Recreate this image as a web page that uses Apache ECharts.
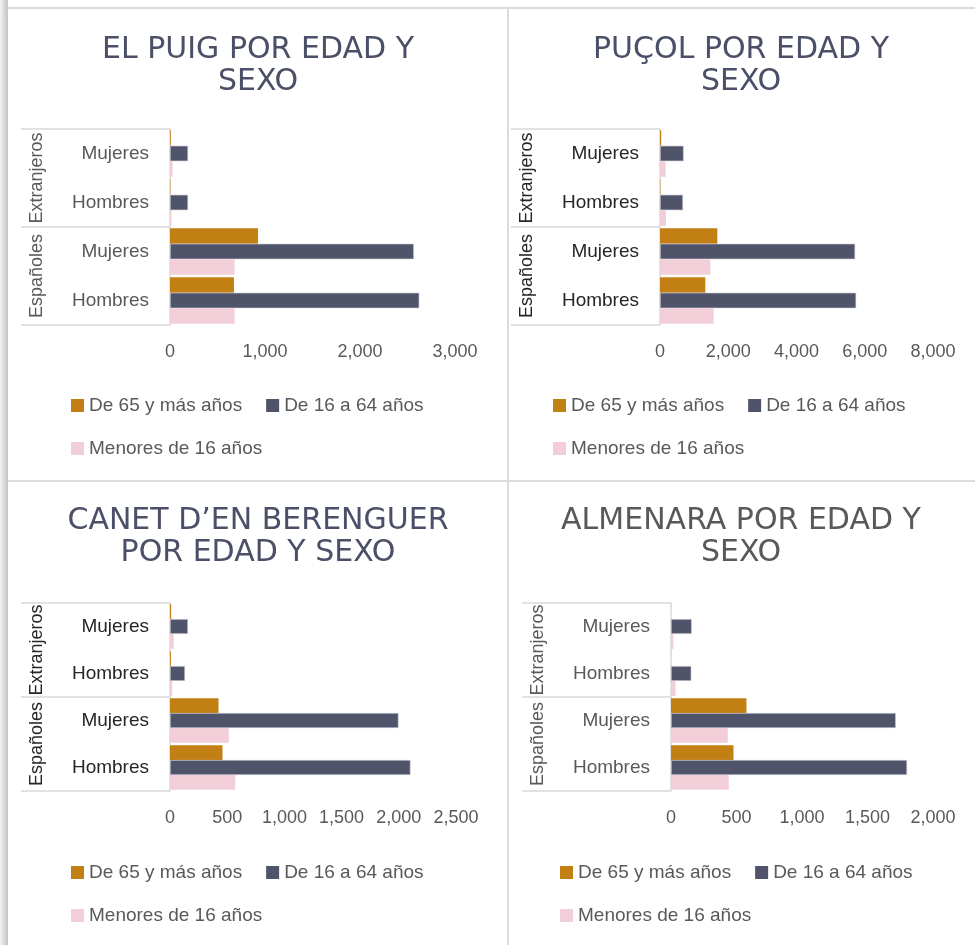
<!DOCTYPE html>
<html>
<head>
<meta charset="utf-8">
<title>Población por edad y sexo</title>
<script src="https://cdn.jsdelivr.net/npm/echarts@6/dist/echarts.min.js"></script>
<style>
  html, body { margin: 0; padding: 0; background: #ffffff; }
  #chart { width: 975px; height: 945px; }
</style>
</head>
<body>
<div id="chart"></div>
<script>
// Categories, bottom to top along the vertical axis
const categories = ['Hombres', 'Mujeres', 'Hombres', 'Mujeres'];
const groups = ['Españoles', 'Extranjeros'];
const seriesNames = ['De 65 y más años', 'De 16 a 64 años', 'Menores de 16 años'];

const titles = [
  'EL PUIG POR EDAD Y\nSEXO',
  'PUÇOL POR EDAD Y\nSEXO',
  'CANET D’EN BERENGUER\nPOR EDAD Y SEXO',
  'ALMENARA POR EDAD Y\nSEXO'
];

// El Puig
const elPuig65 = [673, 927, 4, 8];
const elPuig16a64 = [2624, 2567, 190, 190];
const elPuigMenores = [680, 680, 15, 28];

// Puçol
const pucol65 = [1328, 1680, 10, 35];
const pucol16a64 = [5748, 5718, 674, 692];
const pucolMenores = [1572, 1475, 176, 164];

// Canet d'En Berenguer
const canet65 = [459, 424, 8, 10];
const canet16a64 = [2102, 1997, 131, 157];
const canetMenores = [570, 514, 20, 32];

// Almenara
const almenara65 = [477, 576, 0, 0];
const almenara16a64 = [1802, 1716, 155, 158];
const almenaraMenores = [441, 433, 35, 18];

// Value axis ticks per panel
const axisMax = [3000, 8000, 2500, 2000];
const axisStep = [1000, 2000, 500, 500];

const panelValues = [
  [elPuig65, elPuig16a64, elPuigMenores],
  [pucol65, pucol16a64, pucolMenores],
  [canet65, canet16a64, canetMenores],
  [almenara65, almenara16a64, almenaraMenores]
];

const colors = ['#C27F14', '#50546A', '#F2CFD8'];
const labelFont = '"Liberation Sans", Arial, sans-serif';

// Layout of the four panels
const layout = [
  { cx: 258, titleTop: 34, grid: { left: 170, top: 129, width: 285, height: 196 }, legendLeft: 71, legendTop: 396, titleColor: '#4B5068', catColor: '#595959' },
  { cx: 741, titleTop: 34, grid: { left: 660, top: 129, width: 273, height: 196 }, legendLeft: 553, legendTop: 396, titleColor: '#4B5068', catColor: '#262626' },
  { cx: 258, titleTop: 505, grid: { left: 170, top: 603, width: 286, height: 188 }, legendLeft: 71, legendTop: 863, titleColor: '#4B5068', catColor: '#262626' },
  { cx: 741, titleTop: 505, grid: { left: 671, top: 603, width: 262, height: 188 }, legendLeft: 560, legendTop: 863, titleColor: '#595959', catColor: '#595959' }
];

const option = {
  animation: false,
  backgroundColor: '#ffffff',
  title: [], grid: [], xAxis: [], yAxis: [], series: [], legend: [],
  graphic: []
};

layout.forEach((p, i) => {
  option.title.push({
    text: titles[i],
    left: p.cx, top: p.titleTop, textAlign: 'center', padding: 0,
    textStyle: { fontFamily: '"DejaVu Sans", sans-serif', fontSize: 30, fontWeight: 'normal', color: p.titleColor, lineHeight: 32 }
  });
  option.grid.push(Object.assign({ containLabel: false }, p.grid));
  option.xAxis.push({
    type: 'value', gridIndex: i, min: 0, max: axisMax[i], interval: axisStep[i],
    axisLine: { show: false }, axisTick: { show: false }, splitLine: { show: false },
    axisLabel: {
      margin: 18, color: '#595959', fontFamily: labelFont, fontSize: 18,
      formatter: v => v.toLocaleString('en-US')
    }
  });
  // Inner level: Hombres / Mujeres
  option.yAxis.push({
    type: 'category', gridIndex: i, data: categories, position: 'left',
    axisLine: { show: true, lineStyle: { color: '#D9D9D9', width: 1.5 } },
    axisTick: { show: false },
    axisLabel: { interval: 0, margin: 21, color: p.catColor, fontFamily: labelFont, fontSize: 19 }
  });
  // Outer level: Españoles / Extranjeros, with separator ticks
  option.yAxis.push({
    type: 'category', gridIndex: i, data: groups, position: 'left',
    axisLine: { show: false },
    axisTick: { show: true, length: 149, lineStyle: { color: '#D9D9D9', width: 1.5 } },
    axisLabel: { interval: 0, rotate: 90, margin: 133, align: 'center', verticalAlign: 'middle', color: p.catColor, fontFamily: labelFont, fontSize: 18 }
  });
  panelValues[i].forEach((vals, s) => {
    option.series.push({
      type: 'bar', name: seriesNames[s], xAxisIndex: i, yAxisIndex: i * 2,
      data: vals, barGap: '0%', barCategoryGap: '5%',
      itemStyle: { color: colors[s], borderColor: s === 1 ? '#C9CBD3' : colors[s], borderWidth: s === 1 ? 0.6 : 0 },
      silent: true
    });
  });
  const legendText = { color: '#595959', fontFamily: labelFont, fontSize: 19 };
  const legendBase = {
    left: p.legendLeft, orient: 'horizontal', padding: 0,
    icon: 'rect', itemWidth: 13, itemHeight: 13, itemGap: 24,
    itemStyle: { borderWidth: 0 }, textStyle: legendText, selectedMode: false
  };
  option.legend.push(Object.assign({}, legendBase, { data: seriesNames.slice(0, 2), top: p.legendTop }));
  option.legend.push(Object.assign({}, legendBase, { data: seriesNames.slice(2), top: p.legendTop + 43 }));
});

// Panel frame: top rule, left shadow, dividers
option.graphic = [
  { type: 'rect', shape: { x: 0, y: 0, width: 8, height: 945 }, style: { fill: new echarts.graphic.LinearGradient(0, 0, 1, 0, [{ offset: 0, color: '#F4F4F4' }, { offset: 0.7, color: '#D0D0D0' }, { offset: 1, color: '#C4C4C4' }]) }, silent: true },
  { type: 'line', shape: { x1: 7, y1: 8, x2: 975, y2: 8 }, style: { stroke: '#DADCDC', lineWidth: 2 }, silent: true },
  { type: 'line', shape: { x1: 508, y1: 8, x2: 508, y2: 945 }, style: { stroke: '#DADCDC', lineWidth: 2 }, silent: true },
  { type: 'line', shape: { x1: 8, y1: 481, x2: 975, y2: 481 }, style: { stroke: '#DADCDC', lineWidth: 2 }, silent: true }
];

const chart = echarts.init(document.getElementById('chart'), null, { renderer: 'canvas' });
chart.setOption(option);
</script>
</body>
</html>
